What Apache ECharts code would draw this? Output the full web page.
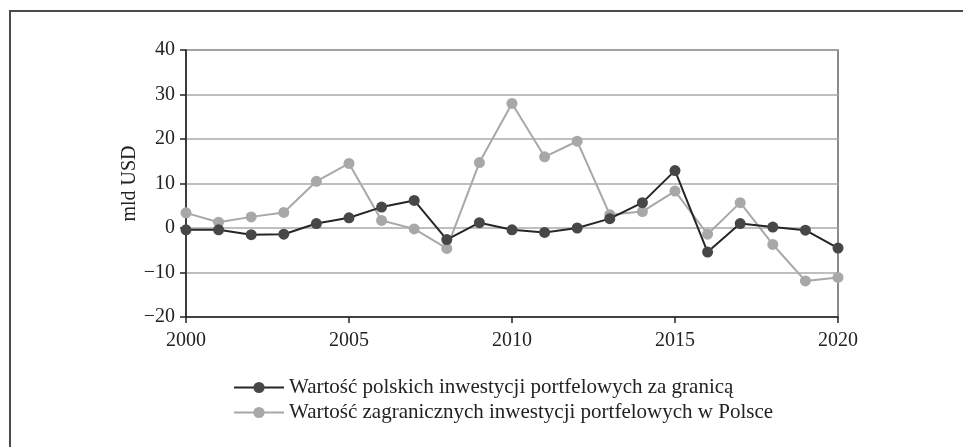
<!DOCTYPE html>
<html>
<head>
<meta charset="utf-8">
<script src="https://cdn.jsdelivr.net/npm/echarts@6/dist/echarts.min.js"></script>
<style>
  html, body { margin: 0; padding: 0; background: #fff; }
  #chart { width: 963px; height: 447px; }
</style>
</head>
<body>
<div id="chart"></div>
<script>
// lata i wartości (mld USD)
const years = [2000, 2001, 2002, 2003, 2004, 2005, 2006, 2007, 2008, 2009, 2010,
  2011, 2012, 2013, 2014, 2015, 2016, 2017, 2018, 2019, 2020]
const polishAbroad = [-0.4, -0.4, -1.5, -1.4, 1.0, 2.3, 4.7, 6.2, -2.6, 1.2, -0.4,
  -1.0, 0.0, 2.1, 5.7, 12.9, -5.4, 1.0, 0.2, -0.5, -4.5]
const foreignInPoland = [3.4, 1.3, 2.5, 3.5, 10.5, 14.5, 1.7, -0.2, -4.6, 14.7, 28.0,
  16.0, 19.5, 3.0, 3.7, 8.3, -1.4, 5.7, -3.7, -11.9, -11.1]
const seriesNames = [
  'Wartość polskich inwestycji portfelowych za granicą',
  'Wartość zagranicznych inwestycji portfelowych w Polsce'
]

const font = '"Liberation Serif", "DejaVu Serif", serif'
const chart = echarts.init(document.getElementById('chart'))

const pairs = vals => years.map((y, i) => [y, vals[i]])
const minus = v => String(v).replace('-', '\u2212')

chart.setOption({
  animation: false,
  backgroundColor: '#fff',
  textStyle: { fontFamily: font },
  graphic: [{
    type: 'rect',
    shape: { x: 10, y: 11, width: 1000, height: 500 },
    style: { fill: 'none', stroke: '#4a4a4a', lineWidth: 2 },
    silent: true
  }],
  grid: {
    left: 186, right: 125, top: 50, bottom: 130,
    show: true, borderColor: '#666', borderWidth: 1.5
  },
  legend: {
    orient: 'vertical',
    left: 228, top: 372,
    itemWidth: 50, itemHeight: 14, itemGap: 4,
    textStyle: { fontFamily: font, fontSize: 21, color: '#222' },
    data: seriesNames
  },
  xAxis: {
    type: 'value',
    min: 2000, max: 2020, interval: 5,
    axisLine: { onZero: false, lineStyle: { color: '#222', width: 1.5 } },
    axisTick: { show: true, length: 6, lineStyle: { color: '#222', width: 1.5 } },
    axisLabel: { fontFamily: font, fontSize: 20, color: '#222', margin: 14, formatter: v => String(v) },
    splitLine: { show: false }
  },
  yAxis: {
    type: 'value',
    min: -20, max: 40, interval: 10,
    name: 'mld USD',
    nameLocation: 'middle',
    nameGap: 46,
    nameMoveOverlap: false,
    nameTextStyle: { fontFamily: font, fontSize: 20, color: '#222' },
    axisLine: { show: true, lineStyle: { color: '#222', width: 1.5 } },
    axisTick: { show: true, length: 6, lineStyle: { color: '#222', width: 1.5 } },
    axisLabel: { fontFamily: font, fontSize: 20, color: '#222', margin: 11, formatter: minus },
    splitLine: { lineStyle: { color: '#aaa', width: 1.5 } }
  },
  series: [
    {
      name: seriesNames[1],
      type: 'line',
      data: pairs(foreignInPoland),
      symbol: 'circle', symbolSize: 11,
      lineStyle: { color: '#a8a8a8', width: 2 },
      itemStyle: { color: '#a8a8a8' },
      z: 2
    },
    {
      name: seriesNames[0],
      type: 'line',
      data: pairs(polishAbroad),
      symbol: 'circle', symbolSize: 11,
      lineStyle: { color: '#262626', width: 2 },
      itemStyle: { color: '#474747' },
      z: 3
    }
  ]
})
</script>
</body>
</html>
